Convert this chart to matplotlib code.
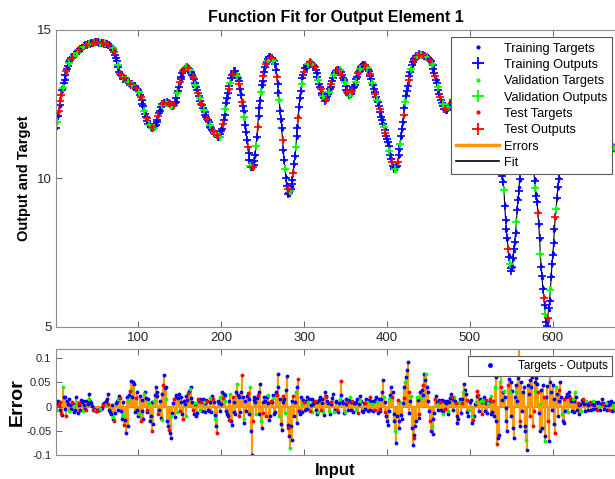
import matplotlib
matplotlib.use('Agg')
import matplotlib.pyplot as plt
import numpy as np
from matplotlib.lines import Line2D

# target values for inputs 1..675
targets = [
    11.7, 11.9, 12.1, 12.28, 12.45, 12.63, 12.8, 12.95, 13.1, 13.23,
    13.35, 13.48, 13.6, 13.7, 13.8, 13.88, 13.95, 14.0, 14.05, 14.08,
    14.1, 14.13, 14.15, 14.18, 14.2, 14.24, 14.27, 14.3, 14.33, 14.36,
    14.38, 14.41, 14.43, 14.45, 14.47, 14.49, 14.5, 14.51, 14.52, 14.53,
    14.54, 14.55, 14.56, 14.57, 14.57, 14.57, 14.57, 14.58, 14.58, 14.58,
    14.58, 14.58, 14.57, 14.57, 14.57, 14.57, 14.56, 14.56, 14.55, 14.55,
    14.54, 14.53, 14.52, 14.5, 14.47, 14.45, 14.42, 14.39, 14.36, 14.3,
    14.22, 14.14, 14.06, 13.96, 13.85, 13.73, 13.62, 13.55, 13.48, 13.44,
    13.4, 13.37, 13.34, 13.32, 13.3, 13.28, 13.27, 13.25, 13.24, 13.22,
    13.21, 13.19, 13.17, 13.15, 13.12, 13.09, 13.06, 13.03, 13.0, 12.96,
    12.9, 12.82, 12.72, 12.62, 12.52, 12.41, 12.3, 12.2, 12.1, 12.01,
    11.92, 11.86, 11.8, 11.76, 11.72, 11.69, 11.67, 11.69, 11.72, 11.78,
    11.85, 11.92, 12.0, 12.1, 12.2, 12.29, 12.38, 12.45, 12.52, 12.56,
    12.59, 12.59, 12.58, 12.56, 12.53, 12.5, 12.48, 12.45, 12.42, 12.41,
    12.41, 12.44, 12.48, 12.53, 12.6, 12.72, 12.85, 12.97, 13.1, 13.22,
    13.35, 13.44, 13.52, 13.59, 13.65, 13.69, 13.73, 13.75, 13.76, 13.75,
    13.72, 13.68, 13.63, 13.57, 13.5, 13.41, 13.32, 13.23, 13.15, 13.06,
    12.98, 12.89, 12.8, 12.71, 12.62, 12.53, 12.45, 12.37, 12.3, 12.22,
    12.15, 12.08, 12.02, 11.95, 11.88, 11.81, 11.75, 11.7, 11.65, 11.6,
    11.55, 11.51, 11.48, 11.45, 11.42, 11.4, 11.39, 11.42, 11.5, 11.59,
    11.7, 11.84, 12.0, 12.17, 12.35, 12.53, 12.7, 12.86, 13.0, 13.13,
    13.25, 13.36, 13.45, 13.52, 13.57, 13.6, 13.6, 13.56, 13.5, 13.41,
    13.3, 13.16, 13.0, 12.83, 12.65, 12.45, 12.25, 12.03, 11.8, 11.55,
    11.3, 11.07, 10.85, 10.63, 10.45, 10.34, 10.3, 10.35, 10.45, 10.6,
    10.8, 11.08, 11.4, 11.75, 12.1, 12.39, 12.65, 12.89, 13.1, 13.28,
    13.45, 13.61, 13.75, 13.85, 13.93, 13.99, 14.03, 14.06, 14.08, 14.08,
    14.06, 14.03, 13.98, 13.93, 13.85, 13.67, 13.45, 13.21, 12.95, 12.63,
    12.3, 11.98, 11.65, 11.3, 10.95, 10.62, 10.3, 10.03, 9.8, 9.6,
    9.45, 9.44, 9.5, 9.6, 9.75, 9.96, 10.2, 10.47, 10.75, 11.07,
    11.4, 11.75, 12.1, 12.41, 12.7, 12.96, 13.2, 13.37, 13.5, 13.61,
    13.7, 13.74, 13.78, 13.82, 13.85, 13.88, 13.9, 13.9, 13.88, 13.85,
    13.82, 13.79, 13.75, 13.66, 13.55, 13.42, 13.3, 13.19, 13.09, 12.99,
    12.9, 12.82, 12.75, 12.69, 12.65, 12.67, 12.72, 12.78, 12.85, 12.91,
    12.98, 13.09, 13.2, 13.3, 13.4, 13.48, 13.54, 13.59, 13.62, 13.64,
    13.65, 13.66, 13.65, 13.61, 13.55, 13.48, 13.4, 13.31, 13.22, 13.11,
    13.0, 12.93, 12.87, 12.83, 12.81, 12.83, 12.88, 12.95, 13.02, 13.08,
    13.15, 13.25, 13.35, 13.44, 13.52, 13.59, 13.65, 13.7, 13.75, 13.78,
    13.8, 13.81, 13.82, 13.81, 13.78, 13.74, 13.68, 13.62, 13.55, 13.45,
    13.35, 13.23, 13.12, 13.02, 12.93, 12.84, 12.75, 12.65, 12.55, 12.44,
    12.33, 12.21, 12.1, 11.99, 11.88, 11.76, 11.65, 11.53, 11.42, 11.31,
    11.2, 11.08, 10.95, 10.81, 10.68, 10.56, 10.45, 10.35, 10.27, 10.25,
    10.3, 10.4, 10.55, 10.74, 10.95, 11.17, 11.4, 11.65, 11.9, 12.15,
    12.4, 12.63, 12.85, 13.03, 13.2, 13.33, 13.45, 13.58, 13.7, 13.78,
    13.85, 13.92, 13.98, 14.03, 14.08, 14.11, 14.13, 14.15, 14.17, 14.18,
    14.19, 14.19, 14.19, 14.19, 14.18, 14.17, 14.15, 14.13, 14.1, 14.06,
    14.02, 13.96, 13.9, 13.83, 13.75, 13.65, 13.55, 13.45, 13.35, 13.23,
    13.1, 12.97, 12.85, 12.75, 12.65, 12.56, 12.48, 12.42, 12.36, 12.34,
    12.32, 12.33, 12.35, 12.38, 12.42, 12.46, 12.5, 12.55, 12.6, 12.65,
    12.7, 12.78, 12.85, 12.9, 12.95, 13.0, 13.05, 13.09, 13.12, 13.16,
    13.2, 13.23, 13.26, 13.28, 13.3, 13.33, 13.35, 13.38, 13.4, 13.42,
    13.43, 13.44, 13.45, 13.45, 13.45, 13.45, 13.44, 13.42, 13.4, 13.38,
    13.35, 13.33, 13.3, 13.26, 13.22, 13.17, 13.12, 13.06, 13.0, 12.91,
    12.82, 12.71, 12.6, 12.48, 12.35, 12.2, 12.05, 11.9, 11.75, 11.6,
    11.45, 11.28, 11.1, 10.95, 10.8, 10.65, 10.5, 10.3, 10.1, 9.9,
    9.65, 9.1, 8.6, 8.25, 7.95, 7.65, 7.4, 7.15, 6.95, 6.92,
    7.05, 7.28, 7.55, 7.87, 8.2, 8.57, 8.95, 9.33, 9.7, 9.95,
    10.2, 10.45, 10.7, 10.9, 11.1, 11.24, 11.35, 11.41, 11.45, 11.44,
    11.4, 11.31, 11.2, 11.04, 10.85, 10.57, 10.25, 9.97, 9.7, 9.48,
    9.25, 8.87, 8.45, 7.95, 7.45, 7.04, 6.65, 6.32, 6.0, 5.66,
    5.35, 5.18, 5.08, 5.25, 5.55, 5.9, 6.3, 6.7, 7.1, 7.47,
    7.85, 8.25, 8.65, 9.0, 9.35, 9.68, 10.0, 10.3, 10.6, 10.85,
    11.1, 11.3, 11.5, 11.68, 11.85, 11.98, 12.1, 12.2, 12.3, 12.4,
    12.5, 12.58, 12.65, 12.7, 12.75, 12.78, 12.8, 12.81, 12.82, 12.81,
    12.8, 12.78, 12.75, 12.72, 12.68, 12.64, 12.6, 12.56, 12.52, 12.48,
    12.45, 12.42, 12.4, 12.37, 12.35, 12.32, 12.3, 12.26, 12.22, 12.17,
    12.12, 12.06, 12.0, 11.94, 11.88, 11.81, 11.75, 11.68, 11.62, 11.56,
    11.5, 11.45, 11.4, 11.35, 11.3, 11.26, 11.22, 11.18, 11.15, 11.11,
    11.08, 11.05, 11.03, 11.01, 11.0,
]

# targets - outputs, inputs 1..675
errors = [
    0.005, -0.006, 0.012, 0.003, -0.008, 0.01, -0.013, -0.018, 0.04, 0.02,
    0.019, -0.004, -0.02, 0.012, 0.006, -0.01, 0.015, 0.004, -0.005, 0.009,
    0.005, 0.002, -0.012, -0.006, 0.019, 0.01, -0.013, 0.004, 0.008, -0.007,
    0.014, 0.009, -0.01, 0.003, 0.012, -0.004, -0.008, 0.011, 0.006, 0.015,
    0.026, 0.012, 0.008, 0.002, -0.006, -0.004, -0.008, -0.007, -0.009, -0.009,
    -0.008, -0.007, -0.006, -0.005, -0.004, -0.002, 0.003, 0.005, 0.008, 0.004,
    0.012, 0.016, 0.026, 0.006, -0.008, -0.012, -0.016, 0.004, -0.022, -0.026,
    -0.03, -0.014, 0.008, 0.012, 0.015, -0.006, 0.022, 0.018, -0.01, -0.025,
    -0.018, 0.01, -0.037, -0.028, -0.055, 0.02, 0.014, -0.04, 0.025, 0.032,
    0.053, 0.02, 0.035, 0.05, 0.047, -0.012, 0.018, 0.03, -0.008, -0.02,
    -0.015, 0.022, -0.03, -0.01, 0.014, -0.025, 0.026, 0.03, 0.018, -0.008,
    -0.012, 0.016, 0.008, -0.03, -0.02, 0.01, -0.051, -0.036, 0.012, 0.025,
    0.04, 0.03, 0.022, -0.015, -0.006, 0.012, -0.023, -0.028, 0.026, 0.045,
    0.065, 0.038, 0.04, 0.015, -0.03, -0.04, -0.048, -0.055, -0.065, -0.02,
    -0.014, 0.008, 0.015, -0.022, 0.019, 0.024, -0.012, 0.018, 0.026, -0.01,
    0.01, 0.02, -0.016, -0.025, 0.012, 0.006, -0.02, 0.022, 0.014, 0.028,
    0.033, 0.036, 0.04, 0.018, 0.01, -0.008, -0.015, 0.006, 0.008, -0.02,
    -0.014, 0.015, 0.012, -0.006, 0.015, 0.01, -0.01, 0.016, 0.01, -0.012,
    0.008, 0.014, 0.012, -0.006, -0.01, 0.018, 0.009, -0.012, 0.022, 0.016,
    0.01, -0.025, -0.018, -0.04, -0.055, 0.012, 0.008, 0.02, -0.01, 0.005,
    0.03, 0.018, 0.026, 0.024, 0.012, -0.01, -0.015, -0.02, -0.027, 0.012,
    0.026, -0.03, -0.037, 0.02, 0.01, -0.012, -0.016, 0.03, 0.047, 0.025,
    0.019, -0.02, -0.012, 0.03, 0.065, 0.02, -0.034, -0.025, 0.012, -0.01,
    0.022, 0.028, -0.015, 0.015, 0.04, -0.05, -0.1, -0.03, 0.014, 0.02,
    0.01, -0.015, 0.018, 0.025, -0.015, 0.03, 0.047, -0.03, -0.044, 0.01,
    -0.014, 0.02, 0.012, -0.02, 0.019, 0.024, 0.008, -0.028, -0.02, 0.012,
    0.01, 0.025, 0.018, -0.016, -0.012, 0.03, 0.024, 0.04, 0.068, -0.02,
    0.015, -0.035, -0.048, 0.022, 0.01, 0.015, -0.014, 0.035, 0.063, -0.045,
    -0.037, -0.06, -0.085, -0.04, -0.07, 0.012, 0.022, -0.02, 0.01, 0.03,
    -0.034, 0.04, 0.058, -0.01, -0.016, 0.02, 0.006, -0.012, 0.014, 0.01,
    -0.008, 0.012, 0.019, -0.005, 0.01, 0.016, -0.01, 0.004, 0.015, -0.012,
    0.005, 0.009, 0.011, -0.006, -0.015, 0.01, -0.012, 0.014, 0.019, -0.008,
    0.008, 0.015, -0.012, -0.018, 0.031, 0.02, 0.022, 0.012, 0.007, -0.01,
    -0.015, 0.005, 0.01, 0.018, 0.026, -0.012, -0.008, 0.009, 0.011, -0.006,
    -0.012, 0.008, 0.015, 0.025, 0.053, 0.012, 0.008, -0.014, -0.011, 0.006,
    0.015, 0.01, -0.008, 0.014, 0.019, -0.006, 0.009, 0.012, -0.012, 0.007,
    0.007, -0.008, 0.01, 0.015, -0.014, 0.006, 0.022, 0.012, 0.011, -0.01,
    -0.012, 0.008, 0.007, -0.004, 0.015, 0.01, -0.009, 0.014, 0.019, -0.006,
    0.011, 0.006, -0.009, 0.012, 0.013, -0.008, 0.019, 0.01, -0.014, 0.016,
    -0.005, -0.01, 0.016, 0.03, 0.054, 0.02, 0.009, -0.012, -0.02, -0.03,
    -0.037, -0.01, 0.015, 0.025, 0.04, 0.02, 0.03, -0.015, -0.03, -0.05,
    -0.076, -0.02, 0.013, -0.03, -0.044, 0.01, -0.018, -0.025, 0.008, 0.018,
    0.04, 0.05, 0.061, 0.075, 0.092, 0.03, -0.014, 0.012, 0.022, -0.045,
    -0.08, -0.065, -0.058, -0.04, -0.03, 0.02, 0.014, -0.015, -0.023, 0.03,
    0.018, 0.035, 0.024, 0.045, 0.068, 0.055, 0.067, 0.04, 0.03, 0.012,
    -0.01, -0.03, -0.05, -0.04, -0.057, -0.025, -0.014, 0.015, 0.022, 0.01,
    0.006, -0.008, 0.013, 0.01, -0.006, 0.014, -0.015, -0.012, 0.011, -0.004,
    0.008, 0.012, -0.016, -0.01, 0.01, 0.018, 0.026, 0.02, 0.015, -0.006,
    0.019, 0.012, 0.008, -0.02, -0.034, -0.025, 0.01, 0.016, -0.014, 0.008,
    0.015, 0.03, 0.047, 0.035, 0.026, 0.014, -0.012, -0.02, -0.006, 0.01,
    0.013, -0.02, -0.034, -0.028, -0.019, 0.006, 0.01, 0.022, 0.033, 0.025,
    -0.01, 0.015, 0.012, 0.01, -0.015, 0.012, 0.019, -0.01, 0.008, 0.014,
    -0.014, 0.008, 0.01, 0.016, 0.022, -0.015, -0.012, 0.012, -0.02, 0.04,
    0.061, -0.03, -0.078, -0.065, -0.058, 0.05, 0.068, 0.04, 0.014, 0.03,
    0.033, 0.02, -0.002, -0.03, -0.051, 0.045, 0.058, 0.03, -0.02, 0.05,
    0.033, -0.045, -0.065, 0.02, 0.044, 0.03, 0.012, 0.06, 0.125, -0.04,
    -0.03, 0.05, -0.01, 0.03, 0.04, -0.04, -0.051, -0.07, -0.09, 0.045,
    0.026, 0.055, -0.02, 0.04, 0.061, -0.04, -0.01, 0.05, 0.033, 0.06,
    0.047, 0.03, -0.013, -0.05, 0.005, 0.035, -0.044, 0.045, 0.019, -0.06,
    -0.072, 0.02, 0.042, -0.03, -0.072, 0.05, 0.08, 0.03, -0.006, 0.045,
    0.015, -0.035, -0.055, 0.04, 0.026, -0.02, 0.012, 0.035, 0.05, 0.02,
    -0.016, -0.03, -0.034, 0.015, -0.01, 0.02, 0.026, -0.012, 0.03, 0.022,
    0.018, 0.012, -0.01, 0.016, 0.011, -0.012, 0.03, 0.02, -0.008, 0.008,
    -0.015, 0.004, 0.006, -0.01, 0.013, 0.01, 0.015, 0.006, -0.009, 0.012,
    0.008, 0.004, -0.007, 0.005, 0.01, -0.006, 0.006, 0.012, -0.005, 0.003,
    0.009, -0.004, -0.006, 0.01, 0.008, 0.002, -0.007, 0.006, 0.015, 0.008,
    0.006, -0.004, 0.004, 0.008, -0.007, 0.003, 0.01, -0.006, 0.005, 0.012,
    -0.01, 0.004, 0.007, -0.008, -0.005,
]

# t = training, v = validation, s = test
subset = (
    "tvtstsstvtttsttvtttstvttt" "vttstttvtttsttvttttstvtts" "tttvttsttvtttsttttvtstttv"
    "ttsttvtstttvttsttvtttsttt" "vtstttvttsttvtttstvttttst" "ttvtstttvttsttvttstttvtts"
    "tttsttvttstvtttsttvttstvt" "sttvtttsttvtttstvttsttvtt" "tsttvtttstvttsttttvttstts"
    "ttvtttsttvttstttvtstttvtt" "sttstvtttsttvtttsttvtttst" "tvttsttvtttsttvttstttvtts"
    "ttttvtsttvttstttvttsttvtt" "stttvttsttvtttsttvtstttvt" "tsttvttstttvttsttvttttstt"
    "vttsttvtttstvttsttttvtstt" "ttvttstttvttsttvtttstvttt" "sttvttstttvtsttvttsttvttt"
    "tstvtttsttvttsttvttstttvt" "ttsttvtstttvttstvtttsttvt" "tvtsttvtssttvtsvtttstvtsv"
    "ttstvttsttvtsttvttttstvtt" "tttttvttttsttttttvttttstt" "sstvttsttvtttstvttsttvttt"
    "ttsvtttsttvttstttvttsttvt" "tvttstttvttsttvttttsttvtt" "ttsttvttttsttvtttstttvttv"
)

n = len(targets)
x = np.arange(1, n + 1)
t = np.array(targets)
e = np.resize(np.array(errors), n)
y = t - e
lab = np.resize(np.array(list(subset)), n)

plt.rcParams['font.family'] = ['Liberation Sans', 'DejaVu Sans']

cols = {'t': (0, 0, 1), 'v': (0, 1, 0), 's': (1, 0, 0)}
names = {'t': 'Training', 'v': 'Validation', 's': 'Test'}
orange = (1, 0.6, 0)

fig = plt.figure(figsize=(6.15, 4.79), dpi=100)
ax1 = fig.add_axes([0.0914, 0.318, 0.9086, 0.6194])
ax2 = fig.add_axes([0.0914, 0.0501, 0.9086, 0.2223])

# top: targets, outputs, errors and fit
ax1.vlines(x, t, y, color=orange, lw=1.5, zorder=1)
ax1.plot(x, y, color='k', lw=0.8, zorder=1.5)
for k in 'tvs':
    m = lab == k
    ax1.plot(x[m], t[m], '.', color=cols[k], ms=3, zorder=2)
    ax1.plot(x[m], y[m], '+', color=cols[k], ms=6, mew=1.2, zorder=2)

handles = []
for k in 'tvs':
    handles.append(Line2D([], [], ls='none', marker='.', ms=4, color=cols[k],
                          label=names[k] + ' Targets'))
    handles.append(Line2D([], [], ls='none', marker='+', ms=8, mew=1.3, color=cols[k],
                          label=names[k] + ' Outputs'))
handles.append(Line2D([], [], color=orange, lw=2.5, label='Errors'))
handles.append(Line2D([], [], color='k', lw=1.2, label='Fit'))
leg = ax1.legend(handles=handles, loc='upper right', bbox_to_anchor=(0.995, 0.975),
                 borderaxespad=0, fontsize=9.2, fancybox=False, handlelength=3.3,
                 handletextpad=0.4, framealpha=1, borderpad=0.4, labelspacing=0.34)
leg.get_frame().set_edgecolor('0.35')
leg.get_frame().set_linewidth(0.8)
leg.set_zorder(5)

ax1.set_xlim(1, 675)
ax1.set_ylim(5, 15)
ax1.set_yticks([5, 10, 15])
ax1.set_xticks([100, 200, 300, 400, 500, 600])
ax1.set_title('Function Fit for Output Element 1', fontsize=11.5, fontweight='bold', pad=6)
ax1.set_ylabel('Output and Target', fontsize=10.5, fontweight='bold', labelpad=4)

# bottom: errors
ax2.axhline(0, color=(0.85, 0.55, 0.1), lw=1.5, zorder=1)
ax2.vlines(x, 0, e, color=orange, lw=1.6, zorder=1)
for k in 'tvs':
    m = lab == k
    ax2.plot(x[m], e[m], '.', color=cols[k], ms=3.5, zorder=2)
leg2 = ax2.legend(handles=[Line2D([], [], ls='none', marker='.', ms=5, color='b',
                                  label='Targets - Outputs')],
                  loc='upper right', bbox_to_anchor=(0.995, 0.93), borderaxespad=0,
                  fontsize=8.5, fancybox=False, handlelength=3.0, framealpha=1,
                  borderpad=0.35, handletextpad=0.9)
leg2.get_frame().set_edgecolor('0.35')
leg2.get_frame().set_linewidth(0.8)
leg2.set_zorder(5)

ax2.set_xlim(1, 675)
ax2.set_ylim(-0.1, 0.12)
ax2.set_yticks([-0.1, -0.05, 0, 0.05, 0.1])
ax2.set_yticklabels(['-0.1', '-0.05', '0', '0.05', '0.1'])
ax2.set_xticks([100, 200, 300, 400, 500, 600])
ax2.set_xticklabels([])
ax2.set_ylabel('Error', fontsize=14, fontweight='bold', labelpad=0)
ax2.set_xlabel('Input', fontsize=12, fontweight='bold', labelpad=2)

for ax, fs in ((ax1, 9.5), (ax2, 8)):
    ax.tick_params(direction='in', top=True, right=False, length=4, width=0.6,
                   color='0.3', labelcolor='0.15', labelsize=fs)
    for s in ax.spines.values():
        s.set_color('0.55')
        s.set_linewidth(0.8)
    ax.spines['right'].set_visible(False)

fig.savefig('out.png', dpi=100)
